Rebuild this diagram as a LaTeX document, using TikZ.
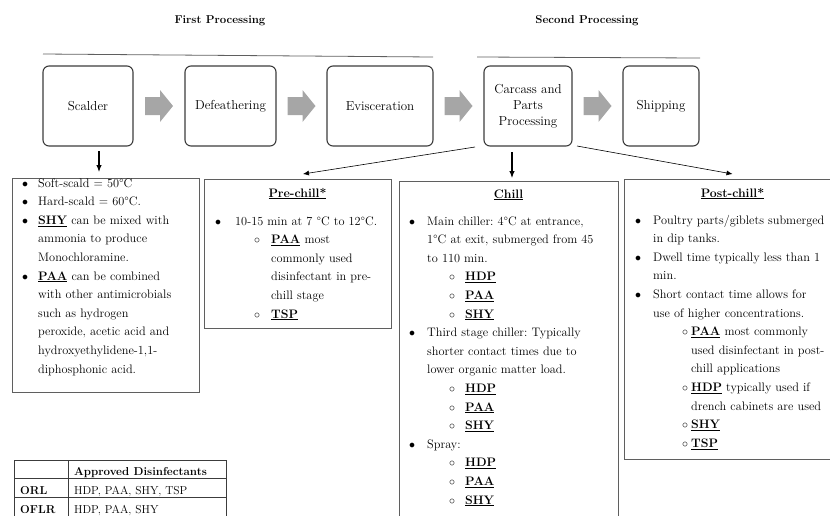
\documentclass[tikz,border=0pt]{standalone}
\usepackage{fontspec}
\usepackage{tikz}
\usetikzlibrary{arrows.meta, positioning, calc}
\definecolor{boxgray}{RGB}{60,60,60}
\definecolor{linegray}{RGB}{95,95,95}
\definecolor{arrowgray}{RGB}{166,166,166}
\newlength{\txtskip}
\newlength{\subskip}
\newlength{\subgap}
\newcommand{\bitem}[1]{\leftskip=\txtskip\noindent\llap{\rlap{$\bullet$}\hskip\txtskip}#1\par}
\newcommand{\citem}[1]{\leftskip=\subskip\noindent\llap{\rlap{$\circ$}\hskip\subgap}#1\par}
\newcommand{\dis}[1]{\underline{\textbf{#1}}}
\newcommand{\notefont}{\fontsize{12.3}{18.6}\selectfont\frenchspacing}
\newcommand{\tabfont}{\fontsize{11.5}{13}\selectfont}

\begin{document}
\begin{tikzpicture}[x=1pt, y=-1pt,
    stage/.style={draw=boxgray, line width=1.1pt, rounded corners=6pt, outer sep=0pt,
                  minimum width=#1, minimum height=80pt, inner sep=2pt,
                  align=center, font=\fontsize{13}{16}\selectfont},
    notebox/.style={draw=linegray, line width=0.9pt, anchor=north west, inner sep=0pt, outer sep=0pt},
    notetext/.style={anchor=base west, inner sep=0pt, text width=240pt, font=\notefont},
    notetitle/.style={anchor=base, inner sep=0pt, font=\notefont},
    tabtext/.style={anchor=base west, inner sep=0pt, font=\tabfont},
    down/.style={-{Latex[length=7pt, width=5.5pt]}, line width=1.1pt},
    slant/.style={-{Latex[length=6pt, width=5pt]}, line width=0.6pt}]
  \useasboundingbox (0,0) rectangle (830,515);
  \clip (0,0) rectangle (830,515);

  % Headings
  \node[font=\bfseries\fontsize{11.4}{13}\selectfont] (first) at (220,21) {First Processing};
  \node[font=\bfseries\fontsize{11.4}{13}\selectfont] (second) at (587,21) {Second Processing};
  \draw[linegray, line width=0.8pt] (43,54) -- (433,57);
  \draw[linegray, line width=0.8pt] (477,57) -- (700,58);

  % Stages
  \node[stage=90pt] (scalder) at (88,106) {Scalder};
  \node[stage=91pt, right=52pt of scalder] (defeath) {Defeathering};
  \node[stage=106pt, right=51pt of defeath] (evisc) {Evisceration};
  \node[stage=88pt, right=51pt of evisc] (carcass) {Carcass and\\ Parts\\ Processing};
  \node[stage=76pt, right=51pt of carcass] (ship) {Shipping};

  \foreach \a/\b in {scalder/defeath, defeath/evisc, evisc/carcass, carcass/ship}
    \fill[arrowgray] ($(\a.east)!0.5!(\b.west)$) ++(-14,-9) -- ++(15,0) -- ++(0,-7)
      -- ++(13,16) -- ++(-13,16) -- ++(0,-7) -- ++(-15,0) -- cycle;

  % Note boxes
  \node[notebox, minimum width=187pt, minimum height=214pt] (scaldnote) at (12,178) {};
  \node[notebox, minimum width=187pt, minimum height=149pt] (prenote) at (204,179) {};
  \node[notebox, minimum width=219pt, minimum height=360pt] (chillnote) at (399,181) {};
  \node[notebox, minimum width=217pt, minimum height=280pt] (postnote) at (624,179) {};

  \node[notetext] (scaldtxt) at (22,187) {\setlength{\txtskip}{16pt}%
    \bitem{Soft-scald = 50°C}
    \bitem{Hard-scald = 60°C.}
    \bitem{\dis{SHY} can be mixed with\\ ammonia to produce\\ Monochloramine.}
    \bitem{\dis{PAA} can be combined\\ with other antimicrobials\\ such as hydrogen\\ peroxide, acetic acid and\\ hydroxyethylidene-1,1-\\ diphosphonic acid.}};

  \node[notetitle] (pretitle) at (297.5,197) {\dis{Pre-chill*}};
  \node[notetext] (pretxt) at (215,225) {\setlength{\txtskip}{20pt}%
    \setlength{\subskip}{56pt}\setlength{\subgap}{17pt}%
    \bitem{10-15 min at 7 °C to 12°C.}
    \citem{\dis{PAA} most\\ commonly used\\ disinfectant in pre-\\ chill stage}
    \citem{\dis{TSP}}};

  \node[notetitle] (chilltitle) at (508.5,198) {\dis{Chill}};
  \node[notetext] (chilltxt) at (409,225) {\setlength{\txtskip}{18pt}%
    \setlength{\subskip}{56pt}\setlength{\subgap}{16pt}%
    \bitem{Main chiller: 4°C at entrance,\\ 1°C at exit, submerged from 45\\ to 110 min.}
    \citem{\dis{HDP}}
    \citem{\dis{PAA}}
    \citem{\dis{SHY}}
    \bitem{Third stage chiller: Typically\\ shorter contact times due to\\ lower organic matter load.}
    \citem{\dis{HDP}}
    \citem{\dis{PAA}}
    \citem{\dis{SHY}}
    \bitem{Spray:}
    \citem{\dis{HDP}}
    \citem{\dis{PAA}}
    \citem{\dis{SHY}}};

  \node[notetitle] (posttitle) at (732.5,197) {\dis{Post-chill*}};
  \node[notetext] (posttxt) at (635,224) {\setlength{\txtskip}{18pt}%
    \setlength{\subskip}{56pt}\setlength{\subgap}{9pt}%
    \bitem{Poultry parts/giblets submerged\\ in dip tanks.}
    \bitem{Dwell time typically less than 1\\ min.}
    \bitem{Short contact time allows for\\ use of higher concentrations.}
    \citem{\dis{PAA} most commonly\\ used disinfectant in post-\\ chill applications}
    \citem{\dis{HDP} typically used if\\ drench cabinets are used}
    \citem{\dis{SHY}}
    \citem{\dis{TSP}}};

  % Connectors
  \coordinate (scaldfrom) at ([xshift=11pt, yshift=-5pt]scalder.south);
  \coordinate (chillfrom) at ([xshift=-16pt, yshift=-6pt]carcass.south);
  \draw[down, shorten >=6pt] (scaldfrom) -- (scaldfrom |- scaldnote.north);
  \draw[down, shorten >=3pt] (chillfrom) -- (chillfrom |- chillnote.north);
  \draw[slant] ([xshift=-9pt, yshift=-1pt]carcass.south west) -- ([xshift=5.5pt, yshift=5pt]prenote.north);
  \draw[slant] ([xshift=5pt]carcass.south east) -- ([yshift=5pt]postnote.north);

  % Table
  \draw[boxgray, line width=0.8pt] (14,460) -- (226,460) (14,478) -- (226,478) (14,497) -- (226,497)
    (14,460) -- (14,520) (68,460) -- (68,520) (226,460) -- (226,520);
  \node[tabtext, font=\tabfont\bfseries] (hdr) at (74,475) {Approved Disinfectants};
  \node[tabtext, font=\tabfont\bfseries] (orl) at (20,494) {ORL};
  \node[tabtext] (orlval) at (74,494) {HDP, PAA, SHY, TSP};
  \node[tabtext, font=\tabfont\bfseries] (oflr) at (20,513) {OFLR};
  \node[tabtext] (oflrval) at (74,513) {HDP, PAA, SHY};
\end{tikzpicture}
\end{document}
